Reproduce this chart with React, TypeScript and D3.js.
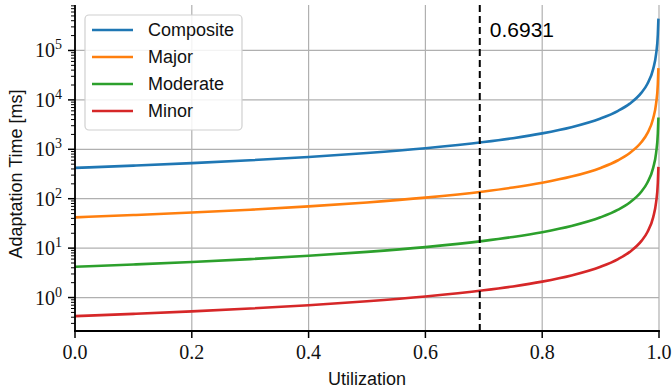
import React from 'react';
import * as d3 from 'd3';

// utilization samples and adaptation times
const utilization = [0, 0.1, 0.2, 0.3, 0.4, 0.5, 0.6, 0.7, 0.75, 0.8, 0.85, 0.9, 0.93, 0.95, 0.97, 0.98, 0.99, 0.995, 0.998, 0.999];
const composite = [420, 467, 525, 600, 700, 840, 1050, 1400, 1680, 2100, 2800, 4200, 6000, 8400, 14000, 21000, 42000, 84000, 210000, 440000];
const major = [42, 46.7, 52.5, 60, 70, 84, 105, 140, 168, 210, 280, 420, 600, 840, 1400, 2100, 4200, 8400, 21000, 44000];
const moderate = [4.2, 4.67, 5.25, 6.0, 7.0, 8.4, 10.5, 14, 16.8, 21, 28, 42, 60, 84, 140, 210, 420, 840, 2100, 4400];
const minor = [0.42, 0.467, 0.525, 0.6, 0.7, 0.84, 1.05, 1.4, 1.68, 2.1, 2.8, 4.2, 6.0, 8.4, 14, 21, 42, 84, 210, 440];

const seriesNames = ['Composite', 'Major', 'Moderate', 'Minor'];
const seriesValues = [composite, major, moderate, minor];
const colors = ['#1f77b4', '#ff7f0e', '#2ca02c', '#d62728'];

const xTicks = [0, 0.2, 0.4, 0.6, 0.8, 1.0];
const yTicks = [0, 1, 2, 3, 4, 5]; // exponents
const threshold = 0.6931;

const W = 672;
const H = 391;
const margin = { top: 5, right: 13, bottom: 60, left: 75 };

const serif = '"Liberation Serif", "Times New Roman", serif';
const sans = '"Liberation Sans", Arial, sans-serif';

export default function App() {
  const x = d3.scaleLinear().domain([0, 1]).range([margin.left, W - margin.right]);
  const y = d3.scaleLog().domain([Math.pow(10, -0.677), Math.pow(10, 5.92)]).range([H - margin.bottom, margin.top]);

  const line = d3.line<number>()
    .x((_, i) => x(utilization[i]))
    .y(d => y(d))
    .curve(d3.curveMonotoneX);

  const [y0, y1] = y.domain();
  const minorTicks: number[] = [];
  for (let e = -1; e <= 5; e++) {
    for (let m = 2; m <= 9; m++) {
      const v = m * Math.pow(10, e);
      if (v >= y0 && v <= y1) minorTicks.push(v);
    }
  }

  const bottom = H - margin.bottom;
  const left = margin.left;

  return (
    <svg width={W} height={H} style={{ position: 'absolute', left: 0, top: 0, background: '#fff' }}>
      {/* grid */}
      <g stroke="#b0b0b0" strokeWidth={1.2}>
        {xTicks.map(t => (
          <line key={'gx' + t} x1={x(t)} x2={x(t)} y1={margin.top} y2={bottom} />
        ))}
        {yTicks.map(e => (
          <line key={'gy' + e} x1={left} x2={W - margin.right} y1={y(Math.pow(10, e))} y2={y(Math.pow(10, e))} />
        ))}
      </g>

      {/* series */}
      {seriesValues.map((vals, i) => (
        <path key={seriesNames[i]} d={line(vals) || ''} fill="none" stroke={colors[i]} strokeWidth={2.6} />
      ))}

      {/* threshold */}
      <line x1={x(threshold)} x2={x(threshold)} y1={margin.top} y2={bottom} stroke="#000" strokeWidth={2} strokeDasharray="7,4" />
      <text x={x(threshold) + 10} y={37} fontFamily={sans} fontSize={21} fill="#000">{threshold.toFixed(4)}</text>

      {/* axes */}
      <g stroke="#000">
        <line x1={left} x2={left} y1={margin.top} y2={bottom + 0.9} strokeWidth={1.8} />
        <line x1={left - 0.9} x2={W - margin.right + 0.9} y1={bottom} y2={bottom} strokeWidth={1.8} />
        {xTicks.map(t => (
          <line key={'tx' + t} x1={x(t)} x2={x(t)} y1={bottom} y2={bottom + 7} strokeWidth={1.5} />
        ))}
        {yTicks.map(e => (
          <line key={'ty' + e} x1={left - 7} x2={left} y1={y(Math.pow(10, e))} y2={y(Math.pow(10, e))} strokeWidth={1.5} />
        ))}
        {minorTicks.map(v => (
          <line key={'tm' + v} x1={left - 4} x2={left} y1={y(v)} y2={y(v)} strokeWidth={1} />
        ))}
      </g>

      {/* tick labels */}
      <g fontFamily={serif} fontSize={20} fill="#111">
        {xTicks.map(t => (
          <text key={'lx' + t} x={x(t)} y={bottom + 28} textAnchor="middle">{t.toFixed(1)}</text>
        ))}
        {yTicks.map(e => (
          <text key={'ly' + e} x={left - 13} y={y(Math.pow(10, e)) + 7} textAnchor="end">
            10<tspan fontSize={14} dy={-8}>{e}</tspan>
          </text>
        ))}
      </g>

      {/* axis labels */}
      <text x={(left + W - margin.right) / 2} y={385} textAnchor="middle" fontFamily={sans} fontSize={18} fill="#111">Utilization</text>
      <text transform={`translate(22, ${(margin.top + bottom) / 2 + 6}) rotate(-90)`} textAnchor="middle" fontFamily={sans} fontSize={18} fill="#111">Adaptation Time [ms]</text>

      {/* legend */}
      <g>
        <rect x={85} y={15} width={157} height={115} rx={4} fill="#fff" fillOpacity={0.85} stroke="#d0d0d0" strokeWidth={1.2} />
        {seriesNames.map((name, i) => (
          <g key={'lg' + name} transform={`translate(0, ${30 + i * 27})`}>
            <line x1={92} x2={133} y1={0} y2={0} stroke={colors[i]} strokeWidth={2.6} />
            <text x={148} y={6} fontFamily={sans} fontSize={18} fill="#111">{name}</text>
          </g>
        ))}
      </g>
    </svg>
  );
}
